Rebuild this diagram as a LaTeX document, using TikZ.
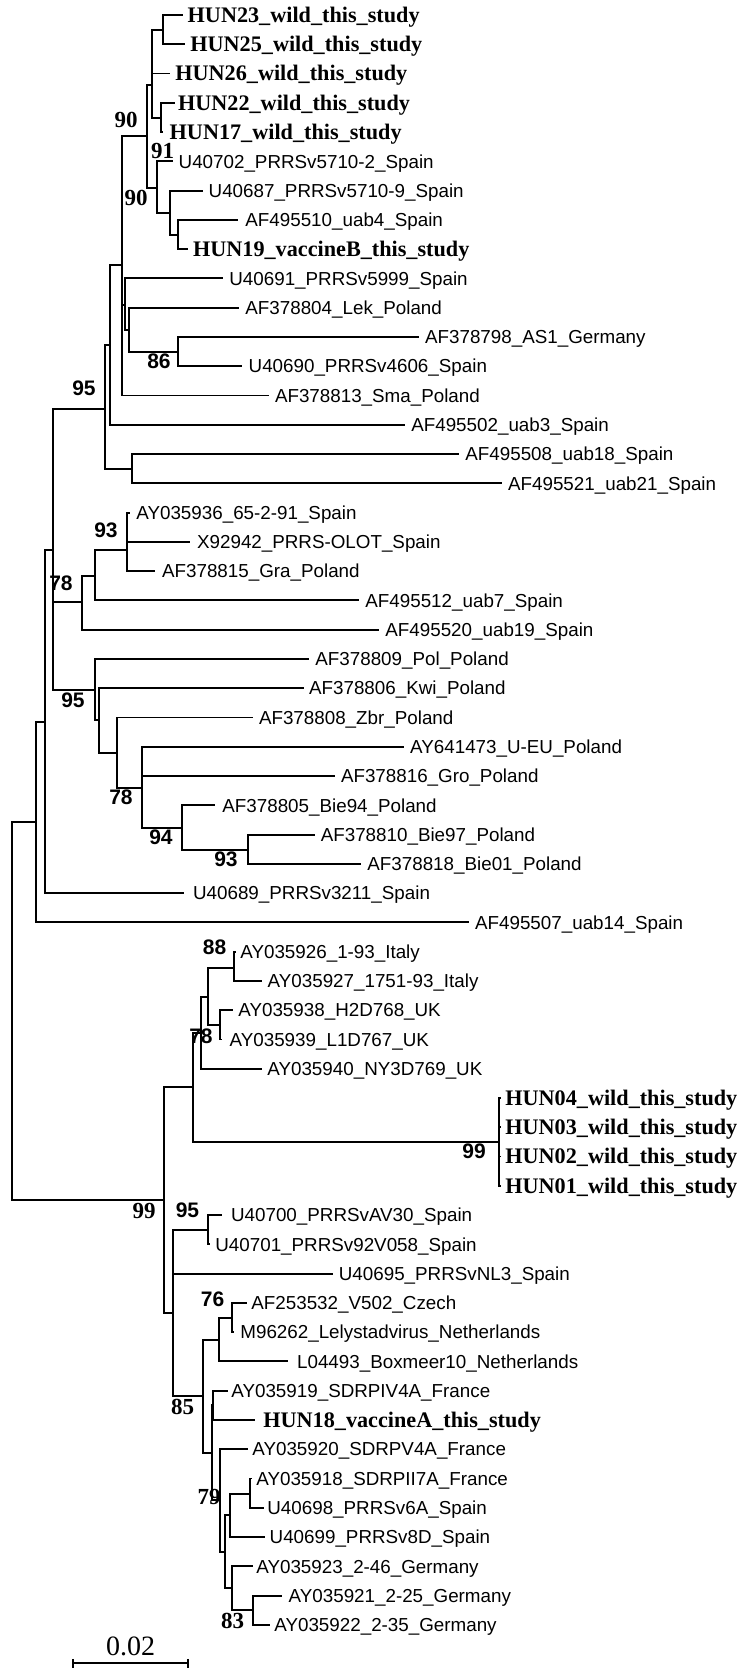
\documentclass[tikz,border=0pt]{standalone}
\usepackage{fontspec}
\setmainfont{Liberation Serif}
\setsansfont{Liberation Sans}
\newcommand\lf[6]{\coordinate (l#1) at (#3,#2); \node[#5] (t#1) at (#4,#2) {#6};}
\tikzset{
 br/.style={line width=0.95pt},
 lab/.style={anchor=west, inner sep=0pt, font=\sffamily\fontsize{9.4}{10}\selectfont, text height=6.73pt, text depth=0pt},
 hlab/.style={anchor=west, inner sep=0pt, font=\bfseries\fontsize{11.1}{12}\selectfont, text height=7.35pt, text depth=0pt},
 bsa/.style={inner sep=0pt, font=\sffamily\bfseries\fontsize{10.5}{11}\selectfont},
 bse/.style={inner sep=0pt, font=\bfseries\fontsize{11.5}{12}\selectfont},
}
\begin{document}
\begin{tikzpicture}[x=0.5pt,y=-0.5pt]
\useasboundingbox (0,0) rectangle (744,1669);
% leaves
\lf{1}{15.0}{183.3}{187.3}{hlab}{HUN23\_wild\_this\_study}
\lf{2}{44.3}{185}{190}{hlab}{HUN25\_wild\_this\_study}
\lf{3}{73.5}{170}{175}{hlab}{HUN26\_wild\_this\_study}
\lf{4}{102.8}{175}{177.7}{hlab}{HUN22\_wild\_this\_study}
\lf{5}{132.1}{163.3}{169.3}{hlab}{HUN17\_wild\_this\_study}
\lf{6}{161.4}{173.3}{178.3}{lab}{U40702\_PRRSv5710-2\_Spain}
\lf{7}{190.6}{203.3}{208.3}{lab}{U40687\_PRRSv5710-9\_Spain}
\lf{8}{219.9}{238.3}{245}{lab}{AF495510\_uab4\_Spain}
\lf{9}{249.2}{188.3}{192.7}{hlab}{HUN19\_vaccineB\_this\_study}
\lf{10}{278.4}{222.7}{229}{lab}{U40691\_PRRSv5999\_Spain}
\lf{11}{307.7}{239.3}{245}{lab}{AF378804\_Lek\_Poland}
\lf{12}{337.0}{419}{424.7}{lab}{AF378798\_AS1\_Germany}
\lf{13}{366.2}{241.7}{248.3}{lab}{U40690\_PRRSv4606\_Spain}
\lf{14}{395.5}{269}{274.6}{lab}{AF378813\_Sma\_Poland}
\lf{15}{424.8}{405}{410.9}{lab}{AF495502\_uab3\_Spain}
\lf{16}{454.1}{459}{465}{lab}{AF495508\_uab18\_Spain}
\lf{17}{483.3}{502}{507.7}{lab}{AF495521\_uab21\_Spain}
\lf{18}{512.6}{130}{136}{lab}{AY035936\_65-2-91\_Spain}
\lf{19}{541.9}{190}{196.7}{lab}{X92942\_PRRS-OLOT\_Spain}
\lf{20}{571.1}{155}{161.7}{lab}{AF378815\_Gra\_Poland}
\lf{21}{600.4}{359}{365}{lab}{AF495512\_uab7\_Spain}
\lf{22}{629.7}{379}{385}{lab}{AF495520\_uab19\_Spain}
\lf{23}{658.9}{309}{315}{lab}{AF378809\_Pol\_Poland}
\lf{24}{688.2}{304}{308.7}{lab}{AF378806\_Kwi\_Poland}
\lf{25}{717.5}{253}{258.6}{lab}{AF378808\_Zbr\_Poland}
\lf{26}{746.8}{404}{409.8}{lab}{AY641473\_U-EU\_Poland}
\lf{27}{776.0}{335}{340.6}{lab}{AF378816\_Gro\_Poland}
\lf{28}{805.3}{215}{222}{lab}{AF378805\_Bie94\_Poland}
\lf{29}{834.6}{315}{320.4}{lab}{AF378810\_Bie97\_Poland}
\lf{30}{863.8}{361}{367}{lab}{AF378818\_Bie01\_Poland}
\lf{31}{893.1}{184.3}{192.7}{lab}{U40689\_PRRSv3211\_Spain}
\lf{32}{922.4}{469}{474.7}{lab}{AF495507\_uab14\_Spain}
\lf{33}{951.6}{236}{240}{lab}{AY035926\_1-93\_Italy}
\lf{34}{980.9}{261.7}{267.3}{lab}{AY035927\_1751-93\_Italy}
\lf{35}{1010.2}{233.3}{238}{lab}{AY035938\_H2D768\_UK}
\lf{36}{1039.5}{222}{229.3}{lab}{AY035939\_L1D767\_UK}
\lf{37}{1068.7}{262}{267}{lab}{AY035940\_NY3D769\_UK}
\lf{38}{1098.0}{500.5}{505}{hlab}{HUN04\_wild\_this\_study}
\lf{39}{1127.3}{500.5}{505}{hlab}{HUN03\_wild\_this\_study}
\lf{40}{1156.5}{500.5}{505}{hlab}{HUN02\_wild\_this\_study}
\lf{41}{1185.8}{500.5}{505}{hlab}{HUN01\_wild\_this\_study}
\lf{42}{1215.1}{221.7}{230.7}{lab}{U40700\_PRRSvAV30\_Spain}
\lf{43}{1244.3}{210}{215}{lab}{U40701\_PRRSv92V058\_Spain}
\lf{44}{1273.6}{333}{338.5}{lab}{U40695\_PRRSvNL3\_Spain}
\lf{45}{1302.9}{246.7}{251}{lab}{AF253532\_V502\_Czech}
\lf{46}{1332.2}{234}{240}{lab}{M96262\_Lelystadvirus\_Netherlands}
\lf{47}{1361.4}{288.3}{296.7}{lab}{L04493\_Boxmeer10\_Netherlands}
\lf{48}{1390.7}{228}{231}{lab}{AY035919\_SDRPIV4A\_France}
\lf{49}{1420.0}{255}{263}{hlab}{HUN18\_vaccineA\_this\_study}
\lf{50}{1449.2}{248}{252}{lab}{AY035920\_SDRPV4A\_France}
\lf{51}{1478.5}{252}{256}{lab}{AY035918\_SDRPII7A\_France}
\lf{52}{1507.8}{264}{267}{lab}{U40698\_PRRSv6A\_Spain}
\lf{53}{1537.0}{265}{269.3}{lab}{U40699\_PRRSv8D\_Spain}
\lf{54}{1566.3}{253.3}{256}{lab}{AY035923\_2-46\_Germany}
\lf{55}{1595.6}{281.7}{288.3}{lab}{AY035921\_2-25\_Germany}
\lf{56}{1624.9}{270}{274}{lab}{AY035922\_2-35\_Germany}
% internal nodes
\coordinate (A) at (162.7,30);
\coordinate (B) at (161,118);
\coordinate (C) at (151.7,85);
\coordinate (G) at (178,235);
\coordinate (F) at (170,212.7);
\coordinate (E) at (156.7,188.3);
\coordinate (D) at (146.7,136);
\coordinate (I86) at (178.3,351.7);
\coordinate (I) at (129.3,330);
\coordinate (J) at (125,305);
\coordinate (H) at (122,265);
\coordinate (K) at (110,345);
\coordinate (L) at (131.7,469.3);
\coordinate (N95) at (105,409.3);
\coordinate (N93) at (126.7,550);
\coordinate (M) at (95,576);
\coordinate (N78) at (81.7,601.7);
\coordinate (T93) at (248.3,850);
\coordinate (T94) at (181.7,828.3);
\coordinate (S) at (141.7,788.3);
\coordinate (R) at (116.7,753.3);
\coordinate (Q) at (99,720);
\coordinate (N95b) at (95,690);
\coordinate (W) at (53.3,550);
\coordinate (V) at (45,721.7);
\coordinate (U) at (36,821.7);
\coordinate (P88) at (234.3,968.3);
\coordinate (P38) at (220,1025);
\coordinate (P1) at (208.3,996.7);
\coordinate (N1) at (201,1033);
\coordinate (HN) at (499.3,1141.7);
\coordinate (N0) at (193.3,1086.7);
\coordinate (P95) at (208.3,1230);
\coordinate (N76) at (231.7,1318);
\coordinate (N219) at (219.3,1340);
\coordinate (P) at (213.3,1405);
\coordinate (N250) at (250,1494);
\coordinate (N7) at (230,1515);
\coordinate (N253) at (253.3,1610);
\coordinate (N83) at (231.7,1588.3);
\coordinate (N6) at (225,1551.7);
\coordinate (N5) at (220,1500);
\coordinate (N4) at (211.7,1453.3);
\coordinate (N3) at (202.7,1395.7);
\coordinate (N2) at (173.3,1313.3);
\coordinate (N99) at (164.3,1200);
\coordinate (root) at (12.3,1000);
% branches
\draw[br] (A) |- (l1) (A) |- (l2);
\draw[br] (B) |- (l4) (B) |- (l5);
\draw[br] (C) |- (A) (C) |- (l3) (C) |- (B);
\draw[br] (G) |- (l8) (G) |- (l9);
\draw[br] (F) |- (l7) (F) |- (G);
\draw[br] (E) |- (l6) (E) |- (F);
\draw[br] (D) |- (C) (D) |- (E);
\draw[br] (I86) |- (l12) (I86) |- (l13);
\draw[br] (I) |- (l11) (I) |- (I86);
\draw[br] (J) |- (l10) (J) |- (I);
\draw[br] (H) |- (D) (H) |- (J) (H) |- (l14);
\draw[br] (K) |- (H) (K) |- (l15);
\draw[br] (L) |- (l16) (L) |- (l17);
\draw[br] (N95) |- (K) (N95) |- (L);
\draw[br] (N93) |- (l18) (N93) |- (l19) (N93) |- (l20);
\draw[br] (M) |- (N93) (M) |- (l21);
\draw[br] (N78) |- (M) (N78) |- (l22);
\draw[br] (T93) |- (l29) (T93) |- (l30);
\draw[br] (T94) |- (l28) (T94) |- (T93);
\draw[br] (S) |- (l26) (S) |- (l27) (S) |- (T94);
\draw[br] (R) |- (l25) (R) |- (S);
\draw[br] (Q) |- (l24) (Q) |- (R);
\draw[br] (N95b) |- (l23) (N95b) |- (Q);
\draw[br] (W) |- (N95) (W) |- (N78) (W) |- (N95b);
\draw[br] (V) |- (W) (V) |- (l31);
\draw[br] (U) |- (V) (U) |- (l32);
\draw[br] (P88) |- (l33) (P88) |- (l34);
\draw[br] (P38) |- (l35) (P38) |- (l36);
\draw[br] (P1) |- (P88) (P1) |- (P38);
\draw[br] (N1) |- (P1) (N1) |- (l37);
\draw[br] (HN) |- (l38) (HN) |- (l39) (HN) |- (l40) (HN) |- (l41);
\draw[br] (N0) |- (N1) (N0) |- (HN);
\draw[br] (P95) |- (l42) (P95) |- (l43);
\draw[br] (N76) |- (l45) (N76) |- (l46);
\draw[br] (N219) |- (N76) (N219) |- (l47);
\draw[br] (P) |- (l48) (P) |- (l49);
\draw[br] (N250) |- (l51) (N250) |- (l52);
\draw[br] (N7) |- (N250) (N7) |- (l53);
\draw[br] (N253) |- (l55) (N253) |- (l56);
\draw[br] (N83) |- (l54) (N83) |- (N253);
\draw[br] (N6) |- (N7) (N6) |- (N83);
\draw[br] (N5) |- (l50) (N5) |- (N6);
\draw[br] (N4) |- (P) (N4) |- (N5);
\draw[br] (N3) |- (N219) (N3) |- (N4);
\draw[br] (N2) |- (P95) (N2) |- (l44) (N2) |- (N3);
\draw[br] (N99) |- (N0) (N99) |- (N2);
\draw[br] (root) |- (U) (root) |- (N99);
% bootstrap values
\node[bse] (b1) at (126,120) {90};
\node[bse] (b2) at (162.5,150.5) {91};
\node[bse] (b3) at (136,197.5) {90};
\node[bsa] (b4) at (159,361.7) {86};
\node[bsa] (b5) at (84,388.5) {95};
\node[bsa] (b6) at (106,530) {93};
\node[bsa] (b7) at (61,583) {78};
\node[bsa] (b8) at (73,700) {95};
\node[bsa] (b9) at (121,797.5) {78};
\node[bsa] (b10) at (161,837.5) {94};
\node[bsa] (b11) at (226,859) {93};
\node[bsa] (b12) at (214.5,947.5) {88};
\node[bsa] (b13) at (201,1036) {78};
\node[bsa] (b14) at (474,1151) {99};
\node[bse] (b15) at (144,1210.5) {99};
\node[bsa] (b16) at (187.5,1210.5) {95};
\node[bsa] (b17) at (212.5,1299) {76};
\node[bse] (b18) at (182.5,1406.5) {85};
\node[bse] (b19) at (209,1496.5) {79};
\node[bse] (b20) at (232.5,1620.5) {83};
% scale bar
\coordinate (s0) at (73.3,1663.3);
\coordinate (s1) at (187.7,1663.3);
\draw[br] (s0) -- (s1);
\draw[br] ([yshift=2.2pt]s0) -- ([yshift=-2.2pt]s0);
\draw[br] ([yshift=2.2pt]s1) -- ([yshift=-2.2pt]s1);
\node[inner sep=0pt, font=\fontsize{14}{15}\selectfont] (sl) at (130.5,1646) {0.02};
\end{tikzpicture}
\end{document}
